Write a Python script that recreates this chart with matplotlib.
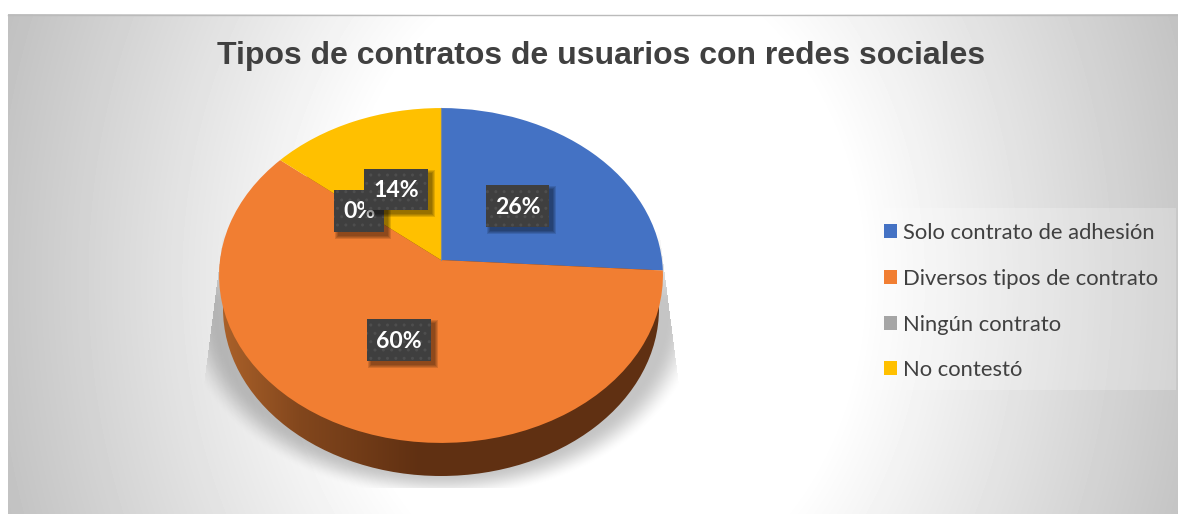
import numpy as np
import matplotlib
matplotlib.use("Agg")
import matplotlib.pyplot as plt
from matplotlib.patches import Rectangle, Ellipse, Patch
from matplotlib.transforms import Transform

title = "Tipos de contratos de usuarios con redes sociales"
categories = ["Solo contrato de adhesión", "Diversos tipos de contrato", "Ningún contrato", "No contestó"]
values = [26, 60, 0, 14]
colors = ["#4472C4", "#F17E32", "#A5A5A5", "#FFC000"]
# left, top, right, bottom of each label box, in pixels
label_boxes = [(486, 185, 549, 227), (367, 319, 431, 361), (334, 190, 384, 232), (364, 169, 428, 210)]

W, H = 1178, 514


class Tilt(Transform):
    # unit disc seen in perspective, output in pixels
    input_dims = 2
    output_dims = 2
    is_separable = False

    def transform_non_affine(self, xy):
        xy = np.asarray(xy)
        w = 1 + 0.0925 * xy[:, 1]
        return np.column_stack([441 + 221 * xy[:, 0] / w, 260 - 166 * xy[:, 1] / w])


fig = plt.figure(figsize=(W / 100, H / 100), dpi=100, facecolor="white")
ax = fig.add_axes([0, 0, 1, 1])

# chart background
yy, xx = np.mgrid[14:514, 8:1178]
r = np.hypot(xx - 600, (yy - 280) * 0.8)
bg = np.clip(255 - (r - 260) * 0.17, 190, 255)
ax.imshow(bg, cmap="gray", vmin=0, vmax=255, extent=(8, 1178, 514, 14), aspect="auto", zorder=0)
ax.plot([8, 1178], [14.5, 14.5], color="#BBBBBB", lw=1, zorder=1)

# soft shadow under the pie, straight sides above and a hard cut at the bottom
yy, xx = np.mgrid[225:488, 190:692]
d = np.hypot((xx - 441) / 262, (yy - 308) / 191)
shade = np.clip((1 - d) / 0.14, 0, 1)
shade = shade * shade * (3 - 2 * shade)
shade = shade * np.clip((yy - 230) / 70, 0, 1) * 0.23
shade[np.abs(xx - 441) > 219 + (yy - 240) * 16 / 125] = 0
rgba = np.zeros(shade.shape + (4,))
rgba[..., 3] = shade
ax.imshow(rgba, extent=(190, 692, 488, 225), aspect="auto", zorder=2)

# side of the pie
rim = np.interp(np.arange(219, 664), [219, 300, 420, 663], [0, 0.55, 1, 1])
rim_img = np.zeros((1, rim.size, 3))
rim_img[0, :, 0] = (172 + (96 - 172) * rim) / 255
rim_img[0, :, 1] = (98 + (48 - 98) * rim) / 255
rim_img[0, :, 2] = (42 + (18 - 42) * rim) / 255
rim_im = ax.imshow(rim_img, extent=(219, 664, 480, 130), aspect="auto", zorder=3)
rim_clip = Ellipse((441, 308.5), 436, 335, transform=ax.transData, fc="none", ec="none")
ax.add_patch(rim_clip)
rim_im.set_clip_path(rim_clip)

# top face
wedges, _ = ax.pie(values, colors=colors, startangle=90, counterclock=False)
tilt = Tilt()
for w in wedges:
    w.set_transform(tilt + ax.transData)
    w.set_zorder(4)
ax.plot([441, 441], [108, 260], color="#7F8A90", lw=0.8, zorder=5)

ax.set_xlim(0, W)
ax.set_ylim(H, 0)
ax.set_aspect("auto")
ax.axis("off")

ax.text(601, 56, title, fontsize=23, fontweight="bold", family="Liberation Sans",
        color="#404040", ha="center", va="center", zorder=10)

# data labels
for i in range(len(values)):
    x0, y0, x1, y1 = label_boxes[i]
    for grow in (3, 2, 1, 0):
        ax.add_patch(Rectangle((x0 + 4 - grow, y0 + 4 - grow), x1 - x0 + 2 * grow, y1 - y0 + 2 * grow,
                               fc="black", ec="none", alpha=0.12, zorder=6 + i * 0.1))
    ax.add_patch(Rectangle((x0, y0), x1 - x0, y1 - y0, fc="#3F3F3F", ec="#4E4E4E", lw=0,
                           hatch="..", zorder=6.01 + i * 0.1))
    ax.text((x0 + x1) / 2, (y0 + y1) / 2 + 1, f"{values[i]}%", color="white", fontsize=16.6,
            fontweight="bold", family="Lato", ha="center", va="center", zorder=6.02 + i * 0.1)

# legend panel, then the legend itself
ax.add_patch(Rectangle((872, 208), 304, 182, fc="white", ec="none", alpha=0.22, zorder=9))
handles = [Patch(fc=c, ec="none") for c in colors]
leg = ax.legend(handles, categories, loc="upper left", bbox_to_anchor=(871 / W, 1 - 210 / H),
                bbox_transform=fig.transFigure, prop={"family": "Lato", "size": 15.8},
                labelcolor="#404040", frameon=False, borderaxespad=0, borderpad=0.6, labelspacing=1.17,
                handlelength=0.6, handleheight=0.6, handletextpad=0.28)
leg.set_zorder(10)

plt.savefig("out.png", dpi=100)
